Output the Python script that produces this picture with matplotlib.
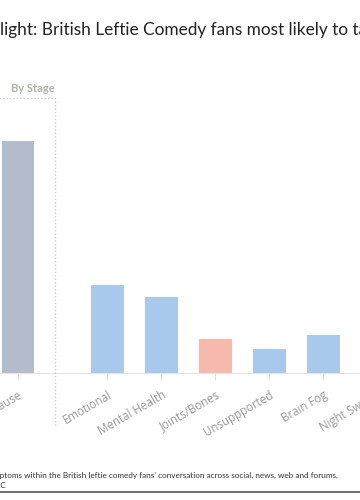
import matplotlib.pyplot as plt
import numpy as np
from matplotlib.lines import Line2D
from matplotlib import transforms

# data
stage_labels = ['Menopause']
stage_values = [58]
symptom_labels = ['Emotional', 'Mental Health', 'Joints/Bones', 'Unsuppported', 'Brain Fog', 'Night Sweats']
symptom_values = [22, 19, 8.5, 6, 9.5, 8]
symptom_colors = ['#a8c8ec', '#a8c8ec', '#f6b9ab', '#a8c8ec', '#a8c8ec', '#a8c8ec']

title = 'Spotlight: British Leftie Comedy fans most likely to talk about symptoms'
caption_1 = 'Share of mentions of menopause symptoms within the British leftie comedy fans\u2019 conversation across social, news, web and forums,'
caption_2 = 'Source: Pulsar TRAC'

plt.rcParams['font.family'] = ['Open Sans', 'DejaVu Sans']

fig = plt.figure(figsize=(3.6, 5), dpi=100)
ax = fig.add_axes([-60 / 360, 127 / 500, 480 / 360, 272 / 500])

gap = 0.657
x_stage = np.arange(len(stage_labels))
x_sym = len(stage_labels) + gap + np.arange(len(symptom_labels))

ax.bar(x_stage, stage_values, 0.6, color='#b3bccb')
ax.bar(x_sym, symptom_values, 0.6, color=symptom_colors)

ax.set_xlim(-78 / 54, 402 / 54)
ax.set_ylim(0, 68)
ax.set_xticks(np.concatenate([x_stage, x_sym]))
ax.set_xticklabels(stage_labels + symptom_labels, rotation=30, ha='right',
                   rotation_mode='anchor', fontsize=8.3, color='#9a9a9a')
ax.tick_params(axis='x', length=5, color='#dddddd', pad=6)
ax.set_yticks([])
for s in ['top', 'left', 'right']:
    ax.spines[s].set_visible(False)
ax.spines['bottom'].set_color('#e4e4e4')

# dotted box round the stage group
sep = x_stage[-1] + 0.685
tr = transforms.blended_transform_factory(ax.transData, fig.transFigure)
fig.add_artist(Line2D([-3, sep, sep], [1 - 98 / 500, 1 - 98 / 500, 1 - 427 / 500],
                      transform=tr, color='#cccccc', lw=1, ls=(0, (1, 1.5))))
fig.text(sep, 1 - 89 / 500, 'By Stage', transform=tr, ha='right', va='center',
         fontsize=8, fontweight='bold', color='#aab2aa', family='Lato')

# title, cropped on both sides
renderer = fig.canvas.get_renderer()
tmp = fig.text(0, 0, 'Spot', fontsize=12.4, family='Lato')
w = tmp.get_window_extent(renderer).width
tmp.remove()
fig.text(-w / 360, 1 - 30 / 500, title, fontsize=12.4, family='Lato', color='#222222', va='center')

# caption
tmp = fig.text(0, 0, 'Share of mentions of menopause sym', fontsize=5.9, family='Lato')
w = tmp.get_window_extent(renderer).width
tmp.remove()
fig.text(-w / 360, 1 - 475 / 500, caption_1, fontsize=5.9, family='Lato', color='#333333', va='center')
fig.text(6 / 360, 1 - 486 / 500, caption_2, fontsize=5.9, family='Lato', color='#333333', va='center', ha='right')
fig.add_artist(Line2D([0, 1], [1 - 492 / 500, 1 - 492 / 500], transform=fig.transFigure,
                      color='#555566', lw=1.2))

fig.savefig('out.png', dpi=100)
